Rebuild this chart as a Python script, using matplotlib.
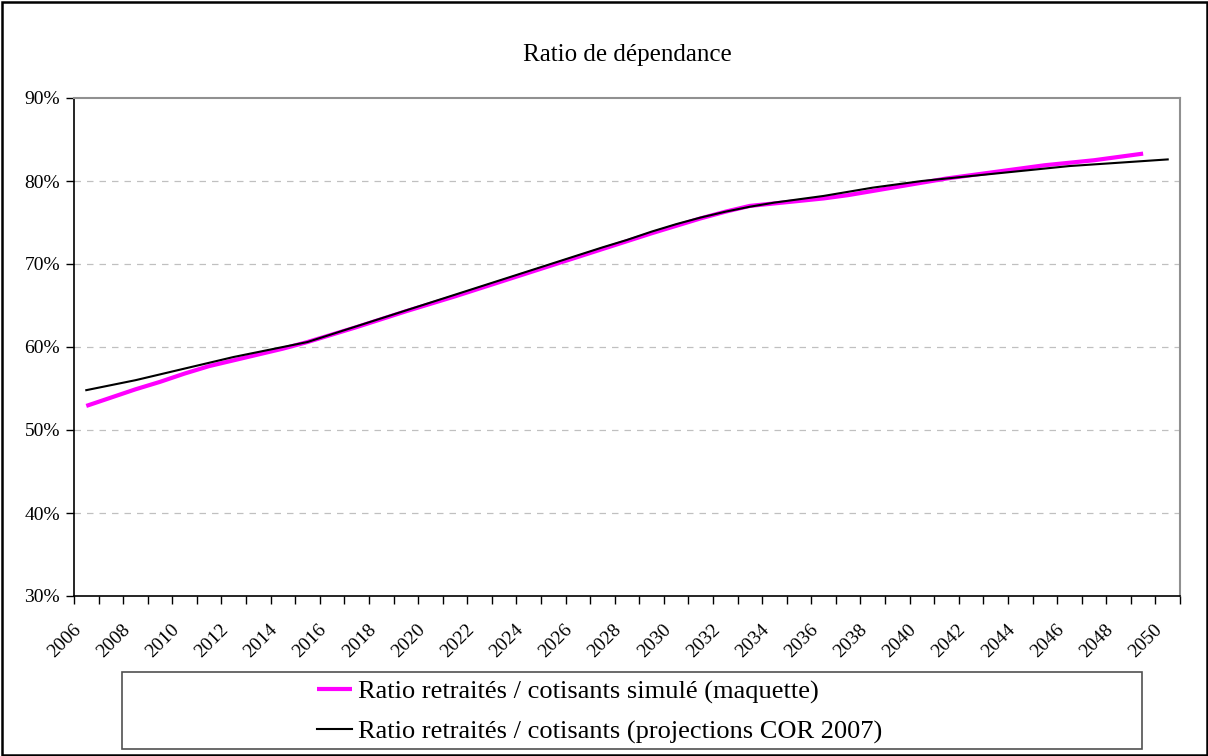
import matplotlib
matplotlib.use("Agg")
import matplotlib.pyplot as plt
from matplotlib.patches import Rectangle
import matplotlib.transforms as mtransforms
import numpy as np

plt.rcParams['font.family'] = ['Liberation Serif', 'DejaVu Serif']

years = list(range(2006, 2051))
simule = [52.9, 53.9, 54.9, 55.8, 56.8, 57.7, 58.4, 59.1, 59.8, 60.6,
          61.5, 62.4, 63.35, 64.3, 65.2, 66.1, 67.05, 68.0, 68.95, 69.9,
          70.85, 71.8, 72.75, 73.7, 74.6, 75.5, 76.3, 77.0, 77.3, 77.6,
          77.9, 78.3, 78.8, 79.3, 79.8, 80.3, 80.7, 81.1, 81.5, 81.9,
          82.2, 82.5, 82.9, 83.3]
cor2007 = [54.8, 55.4, 56.0, 56.7, 57.4, 58.1, 58.8, 59.4, 60.0, 60.6,
           61.55, 62.5, 63.45, 64.4, 65.35, 66.3, 67.25, 68.2, 69.15, 70.1,
           71.05, 72.0, 72.9, 73.9, 74.8, 75.6, 76.3, 76.9, 77.4, 77.8,
           78.2, 78.7, 79.2, 79.6, 80.0, 80.3, 80.6, 80.9, 81.2, 81.5,
           81.8, 82.0, 82.2, 82.4, 82.6]
yticks = [30, 40, 50, 60, 70, 80, 90]
title = "Ratio de dépendance"
label_sim = "Ratio retraités / cotisants simulé (maquette)"
label_cor = "Ratio retraités / cotisants (projections COR 2007)"

W, H = 1208, 756
fig = plt.figure(figsize=(W / 100, H / 100), dpi=100)
fig.patch.set_facecolor('white')

# outer frame
fig.add_artist(Rectangle((1.5 / W, 1.5 / H), (W - 3) / W, (H - 3) / H, transform=fig.transFigure,
                         fill=False, edgecolor='black', linewidth=1.8))

L, R, T, B = 74, 1180, 98, 596
ax = fig.add_axes([L / W, (H - B) / H, (R - L) / W, (B - T) / H])

x = np.arange(len(years))
ax.plot(x[:len(simule)], simule, color='#ff00ff', linewidth=3.0, solid_capstyle='butt', zorder=3)
ax.plot(x[:len(cor2007)], cor2007, color='black', linewidth=1.5, zorder=4)

ax.set_xlim(-0.5, len(years) - 0.5)
ax.set_ylim(30, 90)
ax.set_yticks(yticks)
ax.set_yticklabels([f"{v}%" for v in yticks], fontsize=14)
for v in yticks[1:-1]:
    ax.axhline(v, color='#c0c0c0', linewidth=0.9, linestyle=(0, (5.2, 4.8)), zorder=1)

ax.set_xticks(np.arange(-0.5, len(years), 1.0))
ax.set_xticklabels([])
ax.set_xticks(x[::2], minor=True)
ax.set_xticklabels([str(y) for y in years[::2]], minor=True, rotation=45,
                   ha='right', va='top', rotation_mode='anchor', fontsize=14)
ax.tick_params(axis='x', which='major', direction='out', length=6, width=1, color='black')
ax.tick_params(axis='x', which='minor', length=0, pad=18)
ax.tick_params(axis='y', direction='out', length=6, width=1, pad=4)
shift = mtransforms.ScaledTranslation(-14 / 100, 0, fig.dpi_scale_trans)
for lab in ax.get_xticklabels(minor=True):
    lab.set_transform(lab.get_transform() + shift)

for s in ['left', 'bottom']:
    ax.spines[s].set_color('black')
    ax.spines[s].set_linewidth(1.2)
for s in ['top', 'right']:
    ax.spines[s].set_color('#909090')
    ax.spines[s].set_linewidth(1.5)

fig.text(627 / W, 1 - 55 / H, title, ha='center', va='center', fontsize=18)

# legend box
fig.add_artist(Rectangle((122 / W, (H - 749) / H), (1142 - 122) / W, (749 - 672) / H,
                         transform=fig.transFigure, fill=False, edgecolor='#505050', linewidth=1.2))
handles = ax.get_lines()
fig.legend(handles, [label_sim, label_cor], loc='center left',
           bbox_to_anchor=(304 / W, 1 - 712 / H), frameon=False, fontsize=19,
           borderpad=0, handlelength=1.33, handletextpad=0.23, labelspacing=0.6)

fig.savefig('out.png', dpi=100)
